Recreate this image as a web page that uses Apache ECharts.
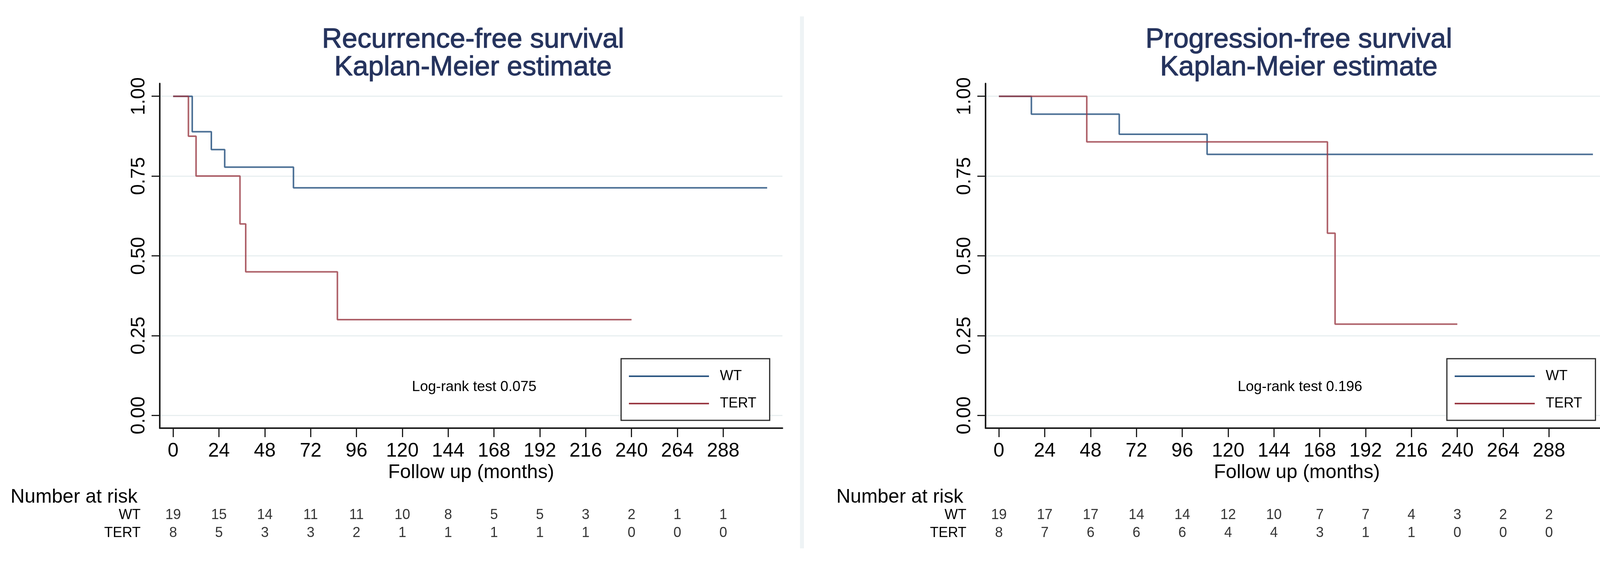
<!DOCTYPE html>
<html>
<head>
<meta charset="utf-8">
<script src="https://cdn.jsdelivr.net/npm/echarts@6/dist/echarts.min.js"></script>
<style>html,body{margin:0;padding:0;background:#fff;}#c{width:4165px;height:1463px;}</style>
</head>
<body>
<div id="c"></div>
<script>
// ---- data ----
const xTicks = [0, 24, 48, 72, 96, 120, 144, 168, 192, 216, 240, 264, 288];
const yTicks = [0, 0.25, 0.5, 0.75, 1];
const groups = ['WT', 'TERT'];

const rfsWtTime = [0, 10, 20, 27, 63, 311];
const rfsWtSurv = [1, 0.889, 0.833, 0.778, 0.713, 0.713];
const rfsTertTime = [0, 8, 12, 35, 38, 86, 240];
const rfsTertSurv = [1, 0.875, 0.75, 0.6, 0.45, 0.3, 0.3];

const pfsWtTime = [0, 17, 63, 109, 311];
const pfsWtSurv = [1, 0.944, 0.881, 0.818, 0.818];
const pfsTertTime = [0, 46, 172, 176, 240];
const pfsTertSurv = [1, 0.857, 0.571, 0.286, 0.286];

const rfsRiskWT = [19, 15, 14, 11, 11, 10, 8, 5, 5, 3, 2, 1, 1];
const rfsRiskTERT = [8, 5, 3, 3, 2, 1, 1, 1, 1, 1, 0, 0, 0];
const pfsRiskWT = [19, 17, 17, 14, 14, 12, 10, 7, 7, 4, 3, 2, 2];
const pfsRiskTERT = [8, 7, 6, 6, 6, 4, 4, 3, 1, 1, 0, 0, 0];

const titles = ['Recurrence-free survival\nKaplan-Meier estimate', 'Progression-free survival\nKaplan-Meier estimate'];
const logRank = ['Log-rank test 0.075', 'Log-rank test 0.196'];

// ---- styling ----
const FONT = '"Liberation Sans", Arial, sans-serif';
const WT_COLOR = '#2c5682';
const TERT_COLOR = '#9a3a44';
const AXIS_COLOR = '#1c1c1c';
const TITLE_COLOR = '#26345e';
const PANEL_OFFSET = 2114;
const GL = 409, GW = 1594;

function pairs(t, s) { return t.map((v, i) => [v, s[i]]); }
function riskPts(row, vals) { return xTicks.map((t, i) => [t, row, vals[i]]); }

const panels = [
  { wt: pairs(rfsWtTime, rfsWtSurv), tert: pairs(rfsTertTime, rfsTertSurv), rWT: rfsRiskWT, rTERT: rfsRiskTERT },
  { wt: pairs(pfsWtTime, pfsWtSurv), tert: pairs(pfsTertTime, pfsTertSurv), rWT: pfsRiskWT, rTERT: pfsRiskTERT }
];

const option = {
  backgroundColor: '#fff',
  animation: false,
  textStyle: { fontFamily: FONT },
  title: [], grid: [], xAxis: [], yAxis: [], series: [], legend: [],
  graphic: [{ type: 'rect', shape: { x: 2048, y: 42, width: 10, height: 1363 }, style: { fill: '#eef3f5' } }]
};

panels.forEach((p, k) => {
  const off = k * PANEL_OFFSET;
  const left = GL + off;
  option.title.push(
    { text: titles[k], left: 1206 + off, top: 62, textAlign: 'center',
      textStyle: { fontFamily: FONT, fontSize: 71, lineHeight: 71, fontWeight: 'normal', color: TITLE_COLOR,
        textBorderColor: TITLE_COLOR, textBorderWidth: 1.4 } },
    { text: logRank[k], left: 1209 + off, top: 968, textAlign: 'center',
      textStyle: { fontFamily: FONT, fontSize: 37, fontWeight: 'normal', color: '#000' } },
    { text: 'Number at risk', left: 22 + off, top: 1244,
      textStyle: { fontFamily: FONT, fontSize: 50, fontWeight: 'normal', color: '#000' } }
  );
  option.grid.push(
    { left: left, top: 214, width: GW, height: 883 },
    { left: left, top: 1297, width: GW, height: 92 }
  );
  const gi = k * 2;
  option.xAxis.push(
    { type: 'value', gridIndex: gi, min: -7, max: 319,
      axisLine: { show: true, onZero: false, lineStyle: { color: AXIS_COLOR, width: 4 } },
      axisTick: { show: true, length: 23, customValues: xTicks, lineStyle: { color: AXIS_COLOR, width: 3 } },
      axisLabel: { show: true, customValues: xTicks, fontSize: 50, margin: 34, color: '#000', fontFamily: FONT },
      splitLine: { show: false },
      name: 'Follow up (months)', nameLocation: 'middle', nameGap: 82,
      nameTextStyle: { fontSize: 50, color: '#000', fontFamily: FONT } },
    { type: 'value', gridIndex: gi + 1, min: -7, max: 319, show: false }
  );
  option.yAxis.push(
    { type: 'value', gridIndex: gi, min: -0.04, max: 1.04,
      axisLine: { show: true, onZero: false, lineStyle: { color: AXIS_COLOR, width: 4 } },
      axisTick: { show: true, length: 21, customValues: yTicks, lineStyle: { color: AXIS_COLOR, width: 3 } },
      axisLabel: { show: true, customValues: yTicks, rotate: 90, fontSize: 50, margin: 28, color: '#000', fontFamily: FONT,
        formatter: v => Number(v).toFixed(2) },
      splitLine: { show: true, lineStyle: { color: '#e8eff0', width: 3 } } },
    { type: 'category', gridIndex: gi + 1, data: ['TERT', 'WT'],
      axisLine: { show: false }, axisTick: { show: false }, splitLine: { show: false },
      axisLabel: { interval: 0, hideOverlap: false, fontSize: 36, margin: 49, color: '#000', fontFamily: FONT } }
  );
  option.series.push(
    { name: 'WT', type: 'line', step: 'end', xAxisIndex: gi, yAxisIndex: gi, data: p.wt, symbol: 'none',
      color: WT_COLOR, lineStyle: { color: WT_COLOR, width: 4, opacity: 0.85 } },
    { name: 'TERT', type: 'line', step: 'end', xAxisIndex: gi, yAxisIndex: gi, data: p.tert, symbol: 'none',
      color: TERT_COLOR, lineStyle: { color: TERT_COLOR, width: 4, opacity: 0.8 } },
    { name: 'risk', type: 'scatter', xAxisIndex: gi + 1, yAxisIndex: gi + 1, symbolSize: 1,
      itemStyle: { color: 'rgba(0,0,0,0)' },
      data: riskPts('WT', p.rWT).concat(riskPts('TERT', p.rTERT)),
      label: { show: true, position: 'inside', formatter: q => String(q.value[2]), fontSize: 36, color: '#000', fontFamily: FONT } }
  );
  option.legend.push({
    data: groups, orient: 'vertical', left: 1590 + off, top: 919, icon: 'rect', selectedMode: false,
    itemWidth: 205, itemHeight: 4, itemGap: 30, padding: [25, 34, 23, 20],
    borderColor: '#2a2a2a', borderWidth: 3, backgroundColor: '#fff',
    textStyle: { fontSize: 36, lineHeight: 40, color: '#000', fontFamily: FONT, padding: [0, 0, 0, 23] }
  });
});

const chart = echarts.init(document.getElementById('c'), null, { renderer: 'canvas' });
chart.setOption(option);
</script>
</body>
</html>
